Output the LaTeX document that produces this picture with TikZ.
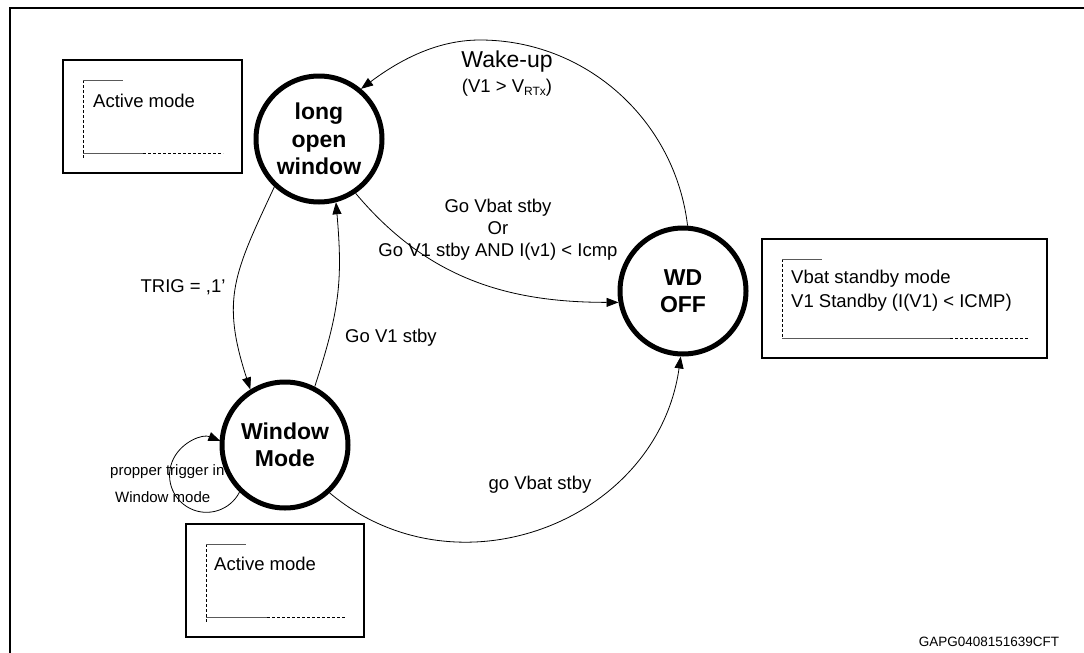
\documentclass[tikz,border=0pt]{standalone}
\usepackage{fontspec}
\setmainfont{Liberation Sans}
\usetikzlibrary{arrows.meta}
\begin{document}
\begin{tikzpicture}[x=1pt,y=1pt,
  state/.style={circle,draw,line width=5pt,minimum size=126pt,inner sep=0pt,fill=white,align=center,
    font=\fontsize{23}{27.5}\selectfont\bfseries},
  lbl/.style={font=\fontsize{18.5}{22}\selectfont,align=center,inner sep=0pt},
  small/.style={font=\fontsize{15}{18}\selectfont,inner sep=0pt,anchor=west},
  edge/.style={line width=0.8pt,-{Triangle[length=12pt,width=9pt]}},
  modebox/.style={draw,line width=1.3pt},
  solidpart/.style={draw=black!65,line width=0.9pt},
  dashpart/.style={draw=black,line width=0.8pt,dash pattern=on 3pt off 2pt},
  btxt/.style={font=\fontsize{18.5}{24}\selectfont,inner sep=0pt,anchor=west,align=left}]
\useasboundingbox (0,0) rectangle (1084,-653);
\clip (0,0) rectangle (1084,-653);
% outer frame
\draw[line width=2.5pt] (10,-8) rectangle (1100,-680);

% self-loop labels (partly covered by the circle)
\node[small] (lp1) at (110,-472) {propper trigger in};
\node[small] (lp2) at (115,-497) {Window mode};

% states
\node[state] (low) at (319,-139) {long\\open\\window};
\node[state] (wm) at (285,-445) {Window\\Mode};
\node[state] (off) at (683,-291) {WD\\OFF};

% mode boxes
\draw[modebox] (63,-60) rectangle (242,-173);
\draw[dashpart] (83,-80) -- (83,-159);
\draw[solidpart] (83,-80) -- (123,-80);
\draw[solidpart] (83,-153) -- (143,-153);
\draw[dashpart] (143,-153) -- (223,-153);
\node[btxt] (am1) at (93,-101) {Active mode};

\draw[modebox] (186,-524) rectangle (364,-637);
\draw[dashpart] (206,-544) -- (206,-623);
\draw[solidpart] (206,-544) -- (246,-544);
\draw[solidpart] (206,-617) -- (267,-617);
\draw[dashpart] (267,-617) -- (345,-617);
\node[btxt] (am2) at (214,-564) {Active mode};

\draw[modebox] (762,-239) rectangle (1047,-358);
\draw[dashpart] (782,-259) -- (782,-338);
\draw[solidpart] (782,-259) -- (822,-259);
\draw[solidpart] (782,-338) -- (950,-338);
\draw[dashpart] (950,-338) -- (1028,-338);
\node[btxt] (vb) at (791,-291) {Vbat standby mode\\V1 Standby (I(V1) < ICMP)};

% transitions
\coordinate (wtop) at (480,-40);
\draw[edge] (off.86) .. controls (675,-120) and (586,-40) .. (wtop)
  .. controls (435,-40) and (397,-62) .. (low.50);
\draw[edge] (low.-56) to[out=-50,in=180] (off.190);
\draw[edge] (low.227) to[out=245,in=108,looseness=1.2] (wm.122);
\draw[edge] (wm.63) to[out=72,in=-85,looseness=1.1] (low.-75);
\draw[edge] (wm.-47) to[out=-40,in=262,looseness=1.13] (off.-92);
\draw[edge] (wm.226) arc[start angle=-27,end angle=-292,radius=37];

% labels
\node[font=\fontsize{23}{27}\selectfont,inner sep=0pt] (wk) at (507,-62) {Wake-up};
\node[lbl] (wk2) at (507,-88) {(V1 > V\raisebox{-0.3ex}{\fontsize{12}{12}\selectfont RTx})};
\node[lbl] (gv) at (498,-230) {Go Vbat stby\\Or\\Go V1 stby AND I(v1) < Icmp};
\node[lbl] (trig) at (183,-287) {TRIG = ,1'};
\node[lbl] (gv1) at (391,-338) {Go V1 stby};
\node[lbl] (gvb) at (540,-485) {go Vbat stby};
\node[font=\fontsize{13.5}{15}\selectfont,inner sep=0pt] (id) at (989,-642) {GAPG0408151639CFT};
\end{tikzpicture}
\end{document}
